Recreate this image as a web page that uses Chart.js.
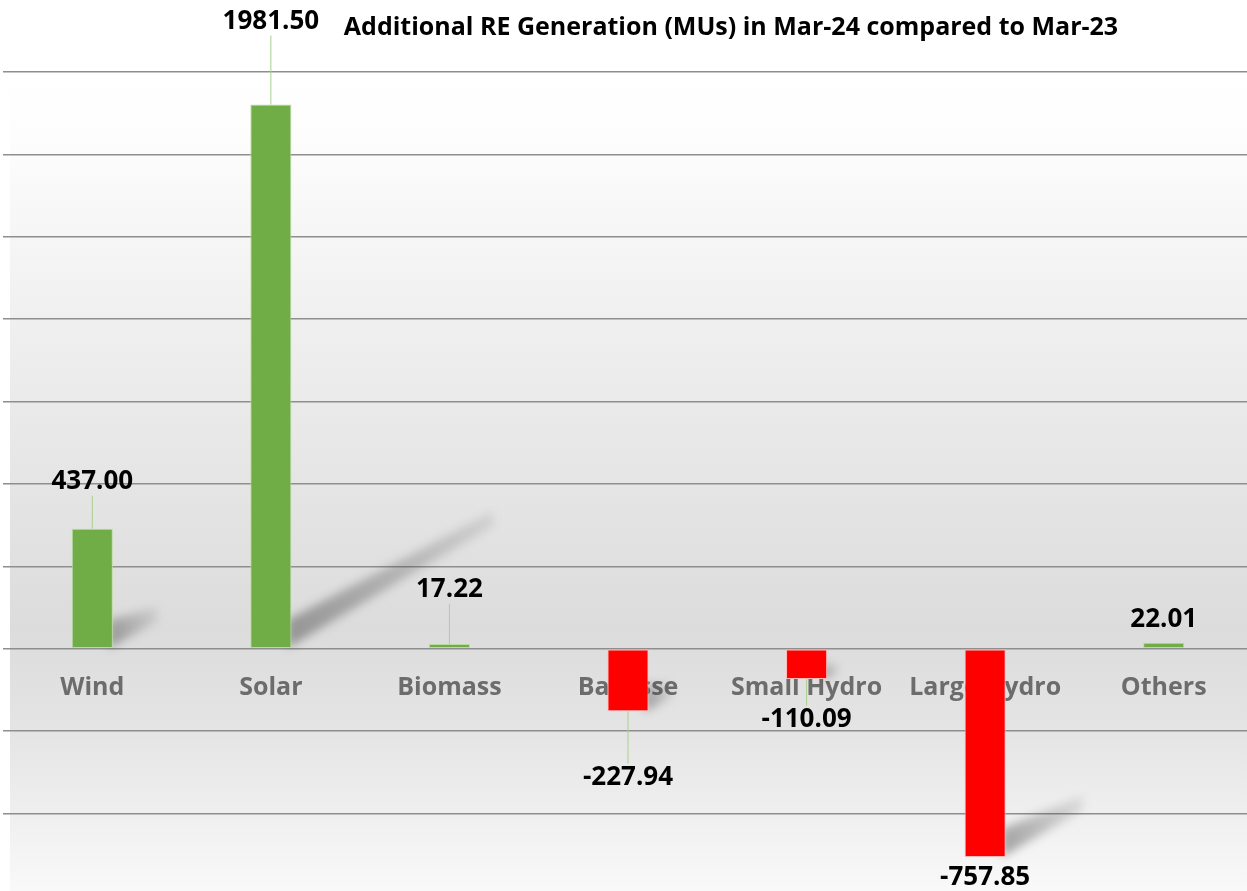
<!DOCTYPE html>
<html>
<head>
<meta charset="utf-8">
<script src="https://cdn.jsdelivr.net/npm/chart.js@4.4.1/dist/chart.umd.min.js"></script>
<style>
  html, body { margin: 0; padding: 0; background: #fff; overflow: hidden; }
  #wrap { width: 1256px; height: 891px; position: relative; }
</style>
</head>
<body>
<div id="wrap"><canvas id="c"></canvas></div>
<script>
const categories = ["Wind", "Solar", "Biomass", "Bagasse", "Small Hydro", "Large Hydro", "Others"];
const additionalMU = [437.00, 1981.50, 17.22, -227.94, -110.09, -757.85, 22.01];
const yTicks = [-600, -300, 0, 300, 600, 900, 1200, 1500, 1800, 2100];
const titleText = "Additional RE Generation (MUs) in Mar-24 compared to Mar-23";

// data label placement (gap in px from bar end) and leader lines, as hand-placed in the source
const labelGap = [47, 83, 54, 66, 41, 21, 23];
const hasLeader = [true, true, true, true, true, false, false];

const FONT = "'Open Sans', 'Noto Sans', sans-serif";

// gray gradient backdrop
const bgPlugin = {
    id: "bg",
    beforeDraw(chart) {
        const { ctx, width, height, chartArea } = chart;
        ctx.save();
        ctx.fillStyle = "#ffffff";
        ctx.fillRect(0, 0, width, height);
        const g = ctx.createLinearGradient(0, chartArea.top, 0, height);
        g.addColorStop(0, "#ffffff");
        g.addColorStop(0.08, "#fdfdfd");
        g.addColorStop(0.35, "#ededed");
        g.addColorStop(0.68, "#dcdcdc");
        g.addColorStop(0.8, "#e4e4e4");
        g.addColorStop(1, "#f9f9f9");
        ctx.fillStyle = g;
        ctx.fillRect(10, chartArea.top, width - 10, height - chartArea.top);
        ctx.restore();
    }
};

// diagonal drop shadows behind bars
const shadowPlugin = {
    id: "barShadow",
    beforeDatasetsDraw(chart) {
        const { ctx } = chart;
        const meta = chart.getDatasetMeta(0);
        meta.data.forEach(bar => {
            const top = Math.min(bar.y, bar.base);
            const bottom = Math.max(bar.y, bar.base);
            const h = bottom - top;
            if (h < 20) return;
            const right = bar.x + bar.width / 2;
            const dx = 0.37 * h, dy = 0.225 * h;
            const t0 = Math.min(28, h * 0.5), t1 = t0 * 0.5;
            ctx.save();
            ctx.filter = "blur(5px)";
            const g = ctx.createLinearGradient(right, bottom, right + dx, bottom - dy);
            g.addColorStop(0, "rgba(60,60,60,0.45)");
            g.addColorStop(1, "rgba(60,60,60,0.12)");
            ctx.fillStyle = g;
            ctx.beginPath();
            ctx.moveTo(right - 4, bottom);
            ctx.lineTo(right + dx, bottom - dy);
            ctx.lineTo(right + dx, bottom - dy - t1);
            ctx.lineTo(right - 4, bottom - t0);
            ctx.closePath();
            ctx.fill();
            ctx.restore();
        });
    }
};

// value labels, leader lines and title
const labelPlugin = {
    id: "labels",
    afterDatasetsDraw(chart) {
        const { ctx } = chart;
        const meta = chart.getDatasetMeta(0);
        ctx.save();
        meta.data.forEach((bar, i) => {
            const v = additionalMU[i];
            const up = v >= 0;
            const cy = up ? bar.y - labelGap[i] : bar.y + labelGap[i];
            if (hasLeader[i]) {
                ctx.strokeStyle = "#a9d18e";
                ctx.lineWidth = 1;
                ctx.beginPath();
                ctx.moveTo(bar.x, up ? cy + 14 : cy - 14);
                ctx.lineTo(bar.x, bar.y);
                ctx.stroke();
            }
            ctx.fillStyle = "#000";
            ctx.font = "bold 26px " + FONT;
            ctx.textAlign = "center";
            ctx.textBaseline = "middle";
            ctx.fillText(v.toFixed(2), bar.x, cy);
        });
        ctx.restore();
    },
    afterDraw(chart) {
        const { ctx } = chart;
        ctx.save();
        ctx.fillStyle = "#000";
        ctx.font = "bold 25px " + FONT;
        ctx.textAlign = "center";
        ctx.textBaseline = "middle";
        ctx.fillText(titleText, 731, 28);
        ctx.restore();
    }
};

const ctx = document.getElementById("c").getContext("2d");
new Chart(ctx, {
    type: "bar",
    data: {
        labels: categories,
        datasets: [{
            data: additionalMU,
            backgroundColor: additionalMU.map(v => v >= 0 ? "#70ad47" : "#ff0000"),
            borderColor: additionalMU.map(v => v >= 0 ? "#b9dca0" : "#ffb8b8"),
            borderWidth: 1,
            borderSkipped: false,
            barPercentage: 0.23,
            categoryPercentage: 1
        }]
    },
    options: {
        responsive: true,
        maintainAspectRatio: false,
        animation: false,
        layout: { padding: { top: 72, left: 3, right: 3, bottom: 0 } },
        plugins: {
            legend: { display: false },
            tooltip: { enabled: false },
            title: { display: false }
        },
        scales: {
            x: {
                position: { y: 0 },
                grid: { display: false, drawTicks: false },
                border: { display: false },
                ticks: {
                    color: "#6c6c6c",
                    font: { family: FONT, weight: "bold", size: 25 },
                    padding: 24,
                    maxRotation: 0,
                    autoSkip: false
                }
            },
            y: {
                min: -882,
                max: 2100,
                grid: { color: "#8e8e8e", lineWidth: 1.5, drawTicks: false },
                border: { display: false },
                ticks: { display: false },
                afterBuildTicks: s => { s.ticks = yTicks.map(v => ({ value: v })); }
            }
        }
    },
    plugins: [bgPlugin, shadowPlugin, labelPlugin]
});
</script>
</body>
</html>
